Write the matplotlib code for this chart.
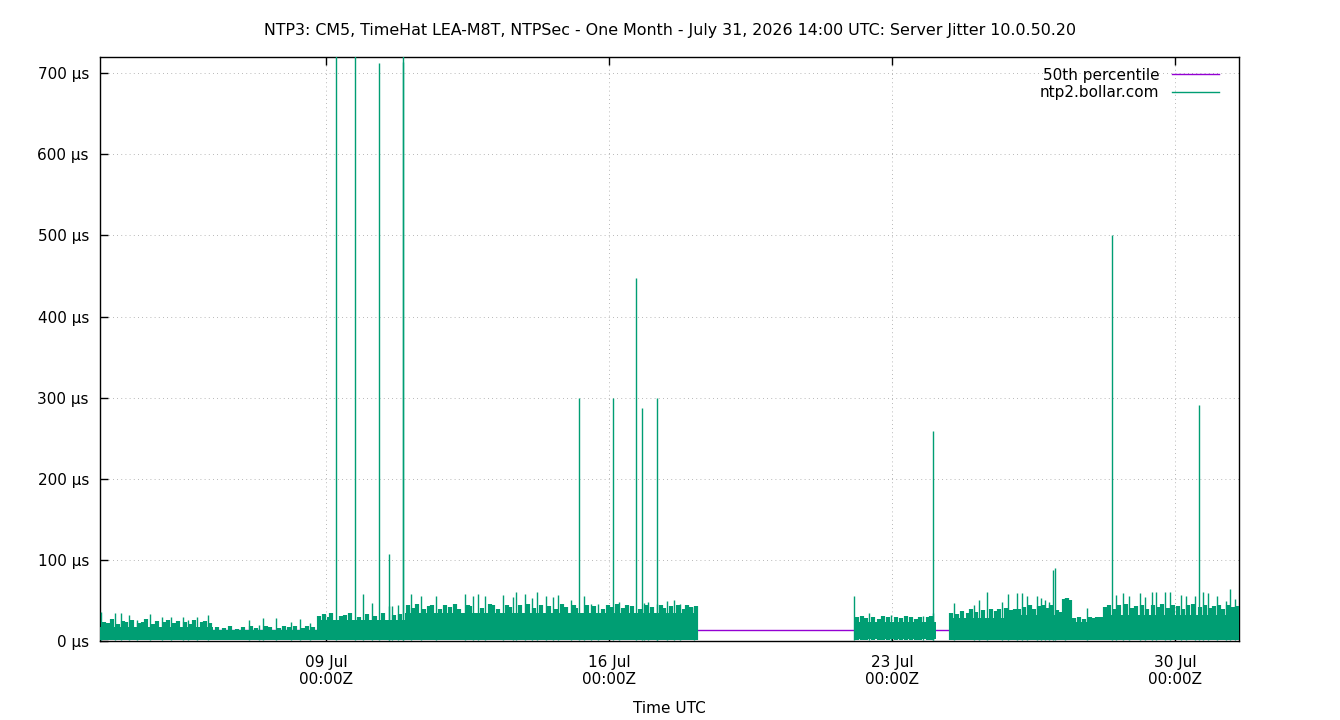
import datetime as dt
import matplotlib
matplotlib.use("Agg")
import matplotlib.pyplot as plt
import matplotlib.dates as mdates
from matplotlib.ticker import FuncFormatter

# ----------------------------------------
# Data (times are July 2026 days, fractional, UTC)
# ----------------------------------------
x_start = 3.41
x_end = 31.57
median_us = 14

# solid band segments: start day, end day, lower µs, upper µs
band_start = [3.41, 6.21, 8.78, 10.95, 22.06, 24.41, 26.17, 27.20, 27.45, 28.22]
band_end = [6.21, 8.78, 10.95, 18.18, 24.09, 26.17, 27.20, 27.45, 28.22, 31.57]
band_low = [1, 1, 1, 1, 2, 1, 1, 10, 1, 1]
band_high = [17, 13, 26, 35, 24, 28, 32, 45, 24, 32]

# dense ragged top of the band
edge_day = [3.50, 3.62, 3.71, 3.86, 3.99, 4.06, 4.21, 4.38, 4.47, 4.55, 4.72, 4.83,
            5.02, 5.09, 5.24, 5.33, 5.51, 5.66, 5.73, 5.92, 6.00, 6.13,
            6.30, 6.48, 6.62, 6.80, 6.95, 7.15, 7.27, 7.51, 7.62, 7.84, 7.97, 8.08,
            8.24, 8.44, 8.52, 8.68,
            8.82, 8.95, 9.06, 9.13, 9.36, 9.47, 9.58, 9.81, 10.02, 10.22, 10.41,
            10.68, 10.83,
            11.02, 11.16, 11.24, 11.42, 11.55, 11.63, 11.82, 11.93, 12.06, 12.18,
            12.29, 12.51, 12.57, 12.85, 13.04, 13.12, 13.25, 13.47, 13.55, 13.80,
            13.98, 14.15, 14.31, 14.52, 14.68, 14.83, 14.92, 15.12, 15.19, 15.45,
            15.62, 15.84, 15.96, 16.06, 16.18, 16.33, 16.44, 16.57, 16.75, 16.91,
            17.06, 17.27, 17.35, 17.52, 17.69, 17.84, 17.93, 18.03, 18.14,
            22.12, 22.24, 22.35, 22.52, 22.66, 22.78, 22.90, 23.08, 23.21, 23.34,
            23.47, 23.58, 23.69, 23.88, 23.95,
            24.46, 24.60, 24.71, 24.86, 24.95, 25.08, 25.24, 25.43, 25.55, 25.64,
            25.80, 25.93, 26.03, 26.13,
            26.26, 26.41, 26.50, 26.63, 26.72, 26.83, 26.93, 27.08, 27.15,
            27.24, 27.31, 27.38,
            27.50, 27.62, 27.73, 27.88, 27.97, 28.06, 28.16,
            28.26, 28.36, 28.50, 28.61, 28.77, 28.92, 29.03, 29.17, 29.30, 29.45,
            29.58, 29.66, 29.81, 29.94, 30.06, 30.19, 30.31, 30.43, 30.60, 30.74,
            30.86, 30.95, 31.08, 31.17, 31.29, 31.41, 31.52]
edge_us = [24, 22, 27, 21, 25, 23, 26, 22, 24, 27, 21, 25,
           23, 26, 22, 25, 24, 21, 26, 23, 25, 22,
           17, 16, 18, 15, 17, 19, 16, 18, 17, 16, 19, 17,
           18, 16, 18, 17,
           31, 33, 30, 34, 31, 32, 35, 30, 33, 31, 34,
           32, 33,
           44, 41, 46, 40, 43, 45, 39, 44, 42, 46,
           40, 45, 43, 41, 46, 44, 40, 45, 42, 44,
           46, 41, 45, 43, 40, 46, 42, 44, 41, 45,
           43, 40, 44, 42, 46, 41, 44, 43, 40, 45,
           42, 44, 41, 43, 45, 40, 44, 42, 43,
           29, 31, 28, 30, 27, 31, 29, 30, 28, 31,
           29, 27, 30, 29, 31,
           34, 33, 37, 35, 39, 36, 38, 40, 37, 39,
           41, 38, 40, 39,
           42, 44, 40, 43, 45, 41, 44, 38, 36,
           52, 53, 50,
           28, 30, 27, 29, 28, 30, 29,
           42, 45, 40, 44, 46, 41, 43, 45, 40, 44,
           42, 46, 41, 45, 43, 40, 44, 46, 42, 45,
           41, 43, 44, 40, 45, 42, 43]

# small spikes on top of the band
fringe_day = [3.44, 3.78, 3.92, 4.13, 4.32, 4.64, 4.94, 5.16, 5.45, 5.58, 5.81, 6.07,
              7.33, 7.45, 7.75, 7.09, 8.14, 8.35, 8.60,
              9.91, 10.14, 10.55, 10.64, 10.78,
              11.11, 11.35, 11.71, 12.43, 12.64, 12.76, 12.94, 13.38, 13.63, 13.70,
              13.91, 14.09, 14.22, 14.44, 14.62, 14.74, 15.05, 15.37, 15.55, 15.73,
              16.23, 16.85, 16.95, 17.18, 17.44, 17.61, 17.76, 18.10,
              22.06, 22.41, 22.96, 23.76, 24.00,
              24.53, 25.02, 25.15, 25.35, 25.72, 25.87, 26.09, 26.21, 26.33, 26.58,
              26.67, 26.77, 26.87, 26.98, 27.03, 27.28, 27.81,
              28.54, 28.69, 28.85, 29.12, 29.24, 29.41, 29.52, 29.73, 29.87, 30.13,
              30.25, 30.48, 30.67, 30.80, 31.02, 31.24, 31.34, 31.47]
fringe_us = [36, 35, 35, 32, 26, 33, 30, 30, 30, 26, 30, 32,
             20, 28, 28, 26, 23, 27, 22,
             58, 47, 43, 43, 45,
             58, 56, 56, 58, 55, 58, 55, 57, 54, 60,
             58, 53, 60, 56, 54, 57, 50, 55, 46, 46,
             48, 47, 48, 46, 49, 50, 46, 42,
             55, 34, 32, 31, 34,
             47, 45, 51, 61, 48, 58, 59, 59, 55, 55,
             53, 50, 48, 87, 90, 53, 41,
             57, 59, 55, 59, 54, 61, 61, 60, 60, 57,
             55, 55, 61, 59, 55, 49, 64, 52]

# large spikes
spike_day = [9.25, 9.72, 10.31, 10.56, 10.89, 10.91, 15.26, 16.10, 16.67, 16.82,
             17.19, 24.01, 28.44, 30.57]
spike_us = [760, 760, 712, 107, 714, 760, 300, 300, 447, 287,
            299, 259, 500, 291]

GREEN = "#009e73"
PURPLE = "#9400d3"


def to_date(day):
    return dt.datetime(2026, 7, 1) + dt.timedelta(days=day - 1)


plt.rcParams["font.family"] = ["DejaVu Sans"]
plt.rcParams["font.size"] = 11

fig = plt.figure(figsize=(13.4, 7.2), dpi=100)
ax = fig.add_axes([100 / 1340, 79 / 720, 1139 / 1340, 584 / 720])

# ----------------------------------------
# Plot
# ----------------------------------------
ax.plot([to_date(x_start), to_date(x_end)], [median_us, median_us],
        color=PURPLE, linewidth=1, label="50th percentile", zorder=2)

for s, e, lo, hi in zip(band_start, band_end, band_low, band_high):
    ax.fill_between([to_date(s), to_date(e)], [lo, lo], [hi, hi],
                    color=GREEN, linewidth=0, zorder=3)

ax.vlines([to_date(d) for d in edge_day], 1, edge_us,
          color=GREEN, linewidth=3, zorder=3)
ax.vlines([to_date(d) for d in fringe_day], 1, fringe_us,
          color=GREEN, linewidth=1, zorder=3)
ax.vlines([to_date(d) for d in spike_day], 1, spike_us,
          color=GREEN, linewidth=1, zorder=3)
ax.plot([], [], color=GREEN, linewidth=1, label="ntp2.bollar.com")

ax.set_xlim(to_date(x_start), to_date(x_end))
ax.set_ylim(0, 720)

tick_days = [9, 16, 23, 30]
ax.set_xticks([to_date(d) for d in tick_days])
ax.xaxis.set_major_formatter(mdates.DateFormatter("%d %b\n%H:%MZ"))
ax.set_yticks(range(0, 701, 100))
ax.yaxis.set_major_formatter(FuncFormatter(lambda v, p: f"{int(v)} µs"))

ax.tick_params(direction="in", length=6, width=1, top=True, right=False, pad=8)
ax.tick_params(axis="x", pad=10)
for sp in ax.spines.values():
    sp.set_linewidth(1)

ax.grid(True, color="#a0a0a0", linestyle=(0, (1, 4)), linewidth=0.6)
ax.set_axisbelow(True)

ax.set_title("NTP3: CM5, TimeHat LEA-M8T, NTPSec - One Month - July 31, 2026 14:00 UTC: Server Jitter 10.0.50.20",
             fontsize=11.45, pad=16)
ax.set_xlabel("Time UTC", labelpad=10)

ax.legend(loc="upper right", frameon=False, markerfirst=False,
          handlelength=3.1, borderaxespad=0.3, labelspacing=0.15,
          bbox_to_anchor=(0.992, 1.0))

fig.savefig("out.png", dpi=100)
